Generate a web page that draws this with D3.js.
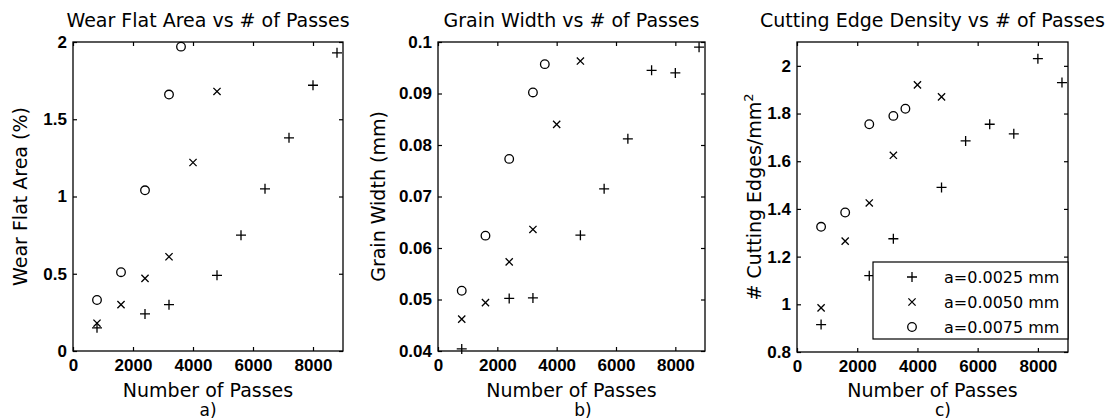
<!DOCTYPE html>
<html>
<head>
<meta charset="utf-8">
<script src="https://cdn.jsdelivr.net/npm/d3@7"></script>
<style>
  body { margin: 0; background: #fff; }
  text { font-family: "DejaVu Sans", Arial, sans-serif; fill: #000; }
</style>
</head>
<body>
<svg id="chart" width="1115" height="420"></svg>
<script>
// number of passes for each depth of cut
const passes25 = [800, 2400, 3200, 4800, 5600, 6400, 7200, 8000, 8800];
const passes50 = [800, 1600, 2400, 3200, 4000, 4800];
const passes75 = [800, 1600, 2400, 3200, 3600];

// a) wear flat area (%)
const wear25 = [0.15, 0.24, 0.30, 0.49, 0.75, 1.05, 1.38, 1.72, 1.93];
const wear50 = [0.18, 0.30, 0.47, 0.61, 1.22, 1.68];
const wear75 = [0.33, 0.51, 1.04, 1.66, 1.97];

// b) grain width (mm)
const grain25 = [0.0404, 0.0502, 0.0503, 0.0625, 0.0715, 0.0812, 0.0945, 0.0940, 0.0990];
const grain50 = [0.0462, 0.0494, 0.0573, 0.0636, 0.0840, 0.0963];
const grain75 = [0.0517, 0.0624, 0.0773, 0.0902, 0.0957];

// c) cutting edge density (#/mm^2)
const edge25 = [0.915, 1.12, 1.275, 1.49, 1.685, 1.755, 1.715, 2.03, 1.93];
const edge50 = [0.985, 1.265, 1.425, 1.625, 1.92, 1.87];
const edge75 = [1.325, 1.385, 1.755, 1.79, 1.82];

const xTicks = [0, 2000, 4000, 6000, 8000];
const wearTicks = [0, 0.5, 1, 1.5, 2];
const grainTicks = [0.04, 0.05, 0.06, 0.07, 0.08, 0.09, 0.1];
const edgeTicks = [0.8, 1, 1.2, 1.4, 1.6, 1.8, 2];
const seriesNames = ["a=0.0025 mm", "a=0.0050 mm", "a=0.0075 mm"];
const markerKinds = ["plus", "cross", "circle"];

const svg = d3.select("#chart");

// marker shapes like the old matlab ones
function marker(g, kind, cx, cy) {
  if (kind === "plus") {
    const s = 5;
    g.append("path")
     .attr("d", `M${cx - s},${cy}H${cx + s}M${cx},${cy - s}V${cy + s}`)
     .attr("stroke", "#000").attr("stroke-width", 1.3).attr("fill", "none");
  } else if (kind === "cross") {
    const s = 3.6;
    g.append("path")
     .attr("d", `M${cx - s},${cy - s}L${cx + s},${cy + s}M${cx - s},${cy + s}L${cx + s},${cy - s}`)
     .attr("stroke", "#000").attr("stroke-width", 1.3).attr("fill", "none");
  } else {
    g.append("circle")
     .attr("cx", cx).attr("cy", cy).attr("r", 4.3)
     .attr("stroke", "#000").attr("stroke-width", 1.3).attr("fill", "none");
  }
}

function drawPanel(p) {
  const x = d3.scaleLinear().domain([0, 9000]).range([p.left, p.right]);
  const y = d3.scaleLinear().domain(p.yDomain).range([p.bottom, p.top]);
  const g = svg.append("g");

  // ticks pointing inwards on all four sides
  const bottom = g.append("g")
    .attr("transform", `translate(0,${p.bottom})`)
    .call(d3.axisBottom(x).tickValues(xTicks).tickSize(-4).tickPadding(8).tickFormat(String));
  const left = g.append("g")
    .attr("transform", `translate(${p.left},0)`)
    .call(d3.axisLeft(y).tickValues(p.yTicks).tickSize(-4).tickPadding(6).tickFormat(String));
  g.append("g")
    .attr("transform", `translate(0,${p.top})`)
    .call(d3.axisTop(x).tickValues(xTicks).tickSize(-4).tickFormat(""));
  g.append("g")
    .attr("transform", `translate(${p.right},0)`)
    .call(d3.axisRight(y).tickValues(p.yTicks).tickSize(-4).tickFormat(""));
  g.selectAll(".domain").remove();
  g.selectAll(".tick line").attr("stroke", "#000").attr("stroke-width", 1.2);
  [bottom, left].forEach(a => a.selectAll("text")
    .style("font-size", "17px").style("font-family", "Arial, 'Liberation Sans', sans-serif")
    .style("font-weight", "bold").attr("fill", "#000"));

  g.append("rect")
   .attr("x", p.left).attr("y", p.top)
   .attr("width", p.right - p.left).attr("height", p.bottom - p.top)
   .attr("fill", "none").attr("stroke", "#000").attr("stroke-width", 1.3);

  // title and labels
  g.append("text")
   .attr("x", (p.left + p.right) / 2).attr("y", 27)
   .attr("text-anchor", "middle").style("font-size", "19px")
   .text(p.title);
  g.append("text")
   .attr("x", (p.left + p.right) / 2).attr("y", 397)
   .attr("text-anchor", "middle").style("font-size", "19px")
   .text("Number of Passes");
  g.append("text")
   .attr("x", p.tagX).attr("y", 416)
   .attr("text-anchor", "middle").style("font-size", "17px")
   .text(p.tag);

  const yl = g.append("text")
   .attr("transform", `translate(${p.ylabelX},${(p.top + p.bottom) / 2}) rotate(-90)`)
   .attr("text-anchor", "middle").style("font-size", "19px")
   .text(p.ylabel);
  if (p.sup) {
    yl.append("tspan").attr("dy", "-0.6em").style("font-size", "13px").text(p.sup);
  }

  // points
  p.series.forEach((s, i) => {
    s.xs.forEach((v, j) => marker(g, markerKinds[i], x(v), y(s.ys[j])));
  });
  return g;
}

drawPanel({
  left: 73, right: 343, top: 42, bottom: 351,
  yDomain: [0, 2], yTicks: wearTicks,
  title: "Wear Flat Area vs # of Passes", ylabel: "Wear Flat Area (%)", ylabelX: 27,
  tag: "a)", tagX: 208,
  series: [{xs: passes25, ys: wear25}, {xs: passes50, ys: wear50}, {xs: passes75, ys: wear75}]
});

drawPanel({
  left: 438, right: 705, top: 42, bottom: 351,
  yDomain: [0.04, 0.1], yTicks: grainTicks,
  title: "Grain Width vs # of Passes", ylabel: "Grain Width (mm)", ylabelX: 385,
  tag: "b)", tagX: 583,
  series: [{xs: passes25, ys: grain25}, {xs: passes50, ys: grain50}, {xs: passes75, ys: grain75}]
});

const gc = drawPanel({
  left: 797, right: 1068, top: 42, bottom: 352,
  yDomain: [0.8, 2.1], yTicks: edgeTicks,
  title: "Cutting Edge Density vs # of Passes", ylabel: "# Cutting Edges/mm", sup: "2", ylabelX: 761,
  tag: "c)", tagX: 943,
  series: [{xs: passes25, ys: edge25}, {xs: passes50, ys: edge50}, {xs: passes75, ys: edge75}]
});

// legend in the lower right of panel c
const legend = gc.append("g");
legend.append("rect")
  .attr("x", 873).attr("y", 262).attr("width", 195).attr("height", 77)
  .attr("fill", "#fff").attr("stroke", "#000").attr("stroke-width", 1.2);
seriesNames.forEach((name, i) => {
  const ly = 277 + i * 25;
  marker(legend, markerKinds[i], 912, ly);
  legend.append("text")
    .attr("x", 944).attr("y", ly + 6)
    .style("font-size", "16px")
    .text(name);
});
</script>
</body>
</html>
